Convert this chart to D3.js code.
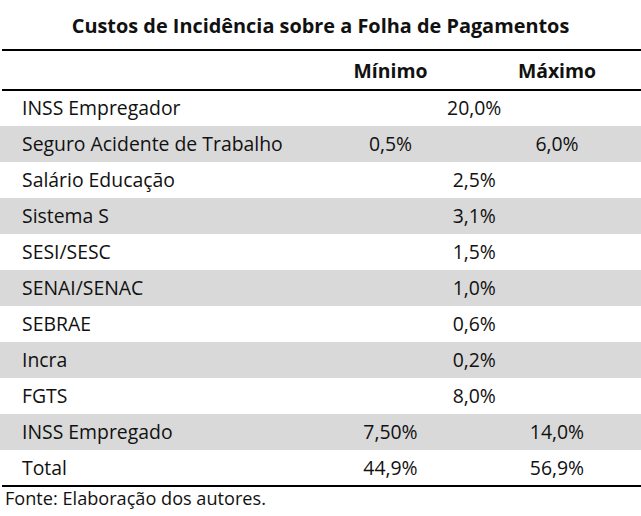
<!DOCTYPE html>
<html>
<head>
<meta charset="utf-8">
<script src="https://cdn.jsdelivr.net/npm/d3@7"></script>
<style>
  html, body { margin: 0; padding: 0; background: #fff; }
  svg { display: block; font-family: "Open Sans", Lato, sans-serif; }
</style>
</head>
<body>
<svg id="chart"></svg>
<script>
// ── Data ──────────────────────────────────────────────────────────────────────
const title = 'Custos de Incidência sobre a Folha de Pagamentos';
const columns = ['Mínimo', 'Máximo'];
const categories = [
  'INSS Empregador', 'Seguro Acidente de Trabalho', 'Salário Educação',
  'Sistema S', 'SESI/SESC', 'SENAI/SENAC', 'SEBRAE', 'Incra', 'FGTS',
  'INSS Empregado', 'Total',
];
// null in maximo = single value spanning both columns
const minimo = ['20,0%', '0,5%', '2,5%', '3,1%', '1,5%', '1,0%', '0,6%', '0,2%', '8,0%', '7,50%', '44,9%'];
const maximo = [null, '6,0%', null, null, null, null, null, null, null, '14,0%', '56,9%'];
const source = 'Fonte: Elaboração dos autores.';

// ── Layout ────────────────────────────────────────────────────────────────────
const W = 641, H = 516;
const svg = d3.select('#chart').attr('width', W).attr('height', H);

// pick a font size so a sample string spans roughly the width seen in the original
function fitSize(text, weight, target) {
  const t = svg.append('text').attr('font-size', 100).attr('font-weight', weight).text(text);
  const w = t.node().getComputedTextLength();
  t.remove();
  return (100 * target) / w;
}

const rows = categories.map((c, i) => ({ label: c, min: minimo[i], max: maximo[i], i }));

const y = d3.scaleBand().domain(categories).range([90, 486]);
const x = d3.scaleOrdinal().domain(columns).range([390.5, 557]);
const xMerged = (x('Mínimo') + x('Máximo')) / 2 + 0.5;

const textColor = '#111';
const fs = fitSize('Seguro Acidente de Trabalho', 400, 261);
const fsTitle = fitSize(title, 700, 498);
const fsSource = fitSize(source, 400, 261);

// title
svg.append('text')
  .attr('x', W / 2).attr('y', 26)
  .attr('text-anchor', 'middle').attr('dy', '0.35em')
  .attr('font-weight', 700).attr('font-size', fsTitle)
  .attr('fill', textColor)
  .text(title);

// shaded bands (every other row)
svg.append('g').selectAll('rect')
  .data(rows.filter((d) => d.i % 2 === 1))
  .join('rect')
  .attr('x', 0).attr('width', W)
  .attr('y', (d) => y(d.label))
  .attr('height', y.bandwidth())
  .attr('fill', '#d9d9d9');

// rules
svg.append('g').selectAll('line')
  .data([50, 90, 486])
  .join('line')
  .attr('x1', 2).attr('x2', W)
  .attr('y1', (d) => d).attr('y2', (d) => d)
  .attr('stroke', '#000').attr('stroke-width', 2.2);

// header
svg.append('g').selectAll('text')
  .data(columns)
  .join('text')
  .attr('x', (d) => x(d)).attr('y', 71)
  .attr('dy', '0.35em').attr('text-anchor', 'middle')
  .attr('font-weight', 700).attr('font-size', fs)
  .attr('fill', textColor)
  .text((d) => d);

// body rows
const g = svg.append('g').attr('font-size', fs).attr('fill', textColor);
const rowG = g.selectAll('g.row')
  .data(rows)
  .join('g')
  .attr('class', 'row')
  .attr('transform', (d) => `translate(0,${y(d.label) + y.bandwidth() / 2})`);

rowG.append('text')
  .attr('x', 22).attr('dy', '0.35em')
  .text((d) => d.label);

rowG.append('text')
  .attr('x', (d) => (d.max == null ? xMerged : x('Mínimo')))
  .attr('dy', '0.35em').attr('text-anchor', 'middle')
  .text((d) => d.min);

rowG.filter((d) => d.max != null).append('text')
  .attr('x', x('Máximo'))
  .attr('dy', '0.35em').attr('text-anchor', 'middle')
  .text((d) => d.max);

// source note
svg.append('text')
  .attr('x', 5).attr('y', 499)
  .attr('dy', '0.35em')
  .attr('font-size', fsSource).attr('fill', textColor)
  .text(source);
</script>
</body>
</html>
